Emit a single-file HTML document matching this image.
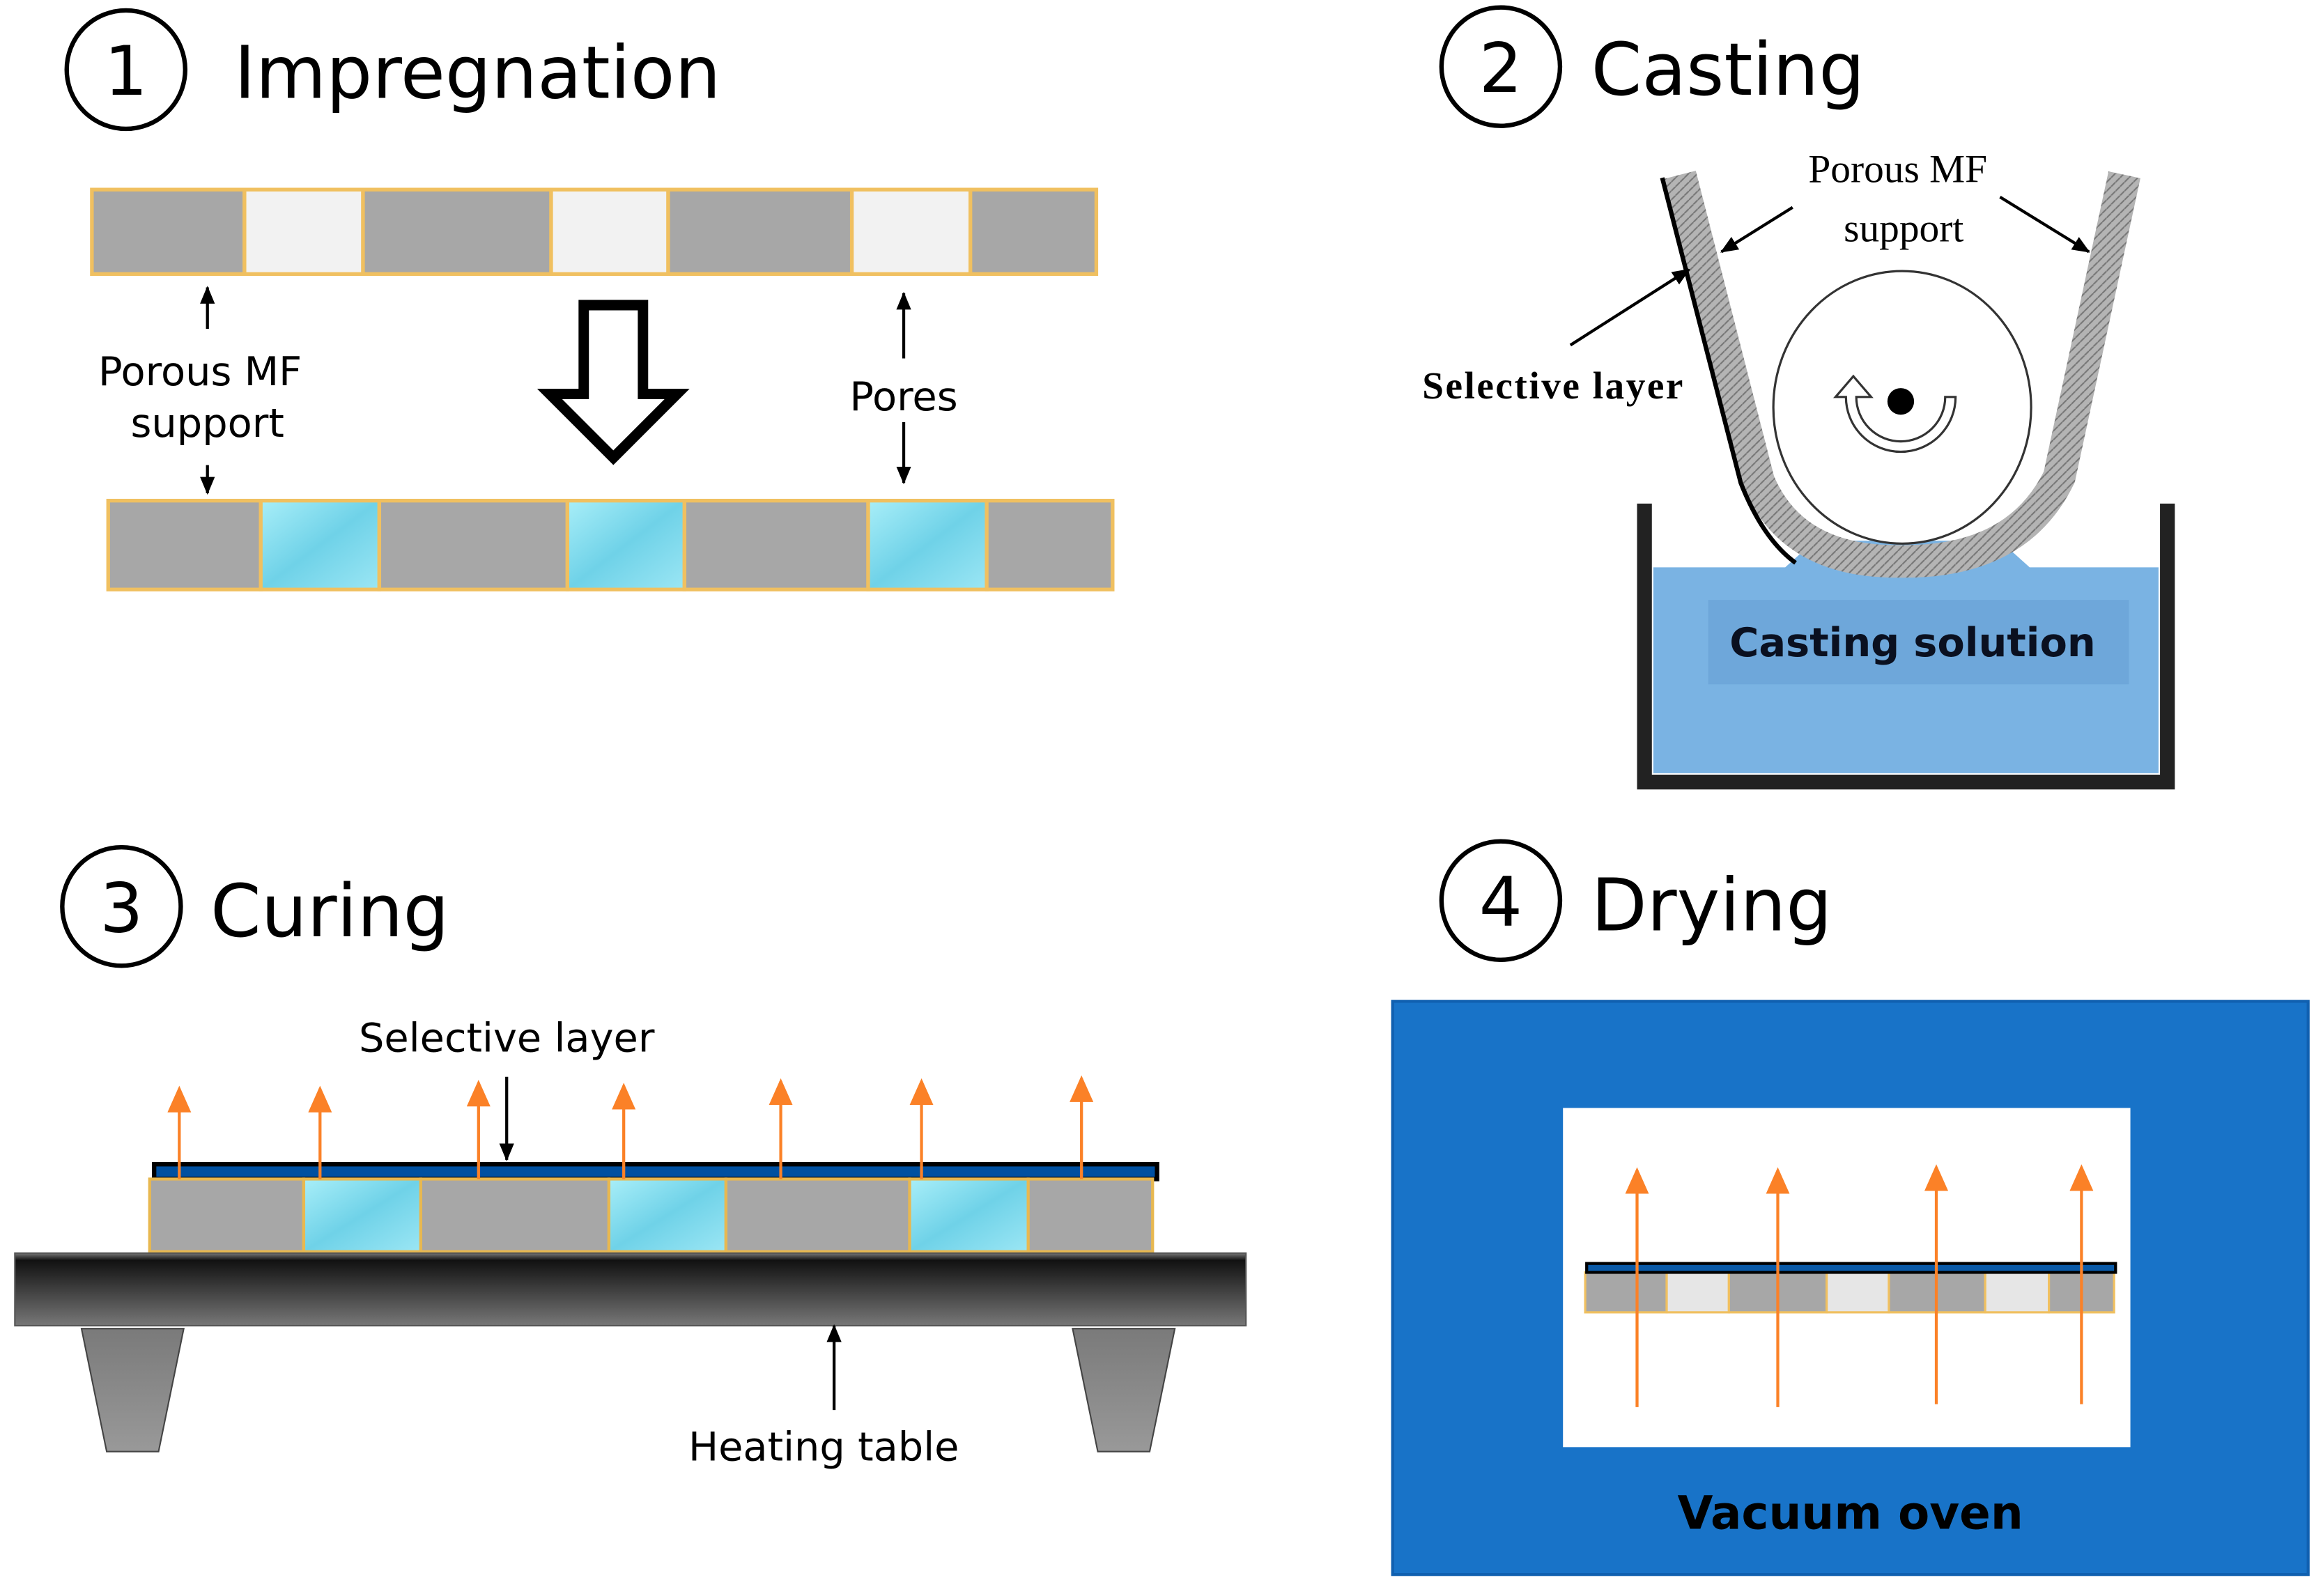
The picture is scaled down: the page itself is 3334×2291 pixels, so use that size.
<!DOCTYPE html>
<html><head><meta charset="utf-8"><style>
html,body{margin:0;padding:0;background:#fff;width:3334px;height:2291px;overflow:hidden}
svg{display:block}
.s{font-family:"DejaVu Sans","Liberation Sans",sans-serif}
.r{font-family:"Liberation Serif",serif}
</style></head><body>
<svg width="3334" height="2291" viewBox="0 0 1568 1077.5" xmlns="http://www.w3.org/2000/svg">
<defs>
<linearGradient id="wat" x1="0" y1="0" x2="1" y2="1">
<stop offset="0" stop-color="#a8eef8"/><stop offset="0.5" stop-color="#6fd2e8"/><stop offset="1" stop-color="#9be6f4"/>
</linearGradient>
<linearGradient id="tab" x1="0" y1="0" x2="0" y2="1">
<stop offset="0" stop-color="#777"/><stop offset="0.1" stop-color="#111"/><stop offset="1" stop-color="#777"/>
</linearGradient>
<linearGradient id="leg" x1="0" y1="0" x2="0" y2="1">
<stop offset="0" stop-color="#7a7a7a"/><stop offset="1" stop-color="#999"/>
</linearGradient>
<pattern id="wv" width="6" height="6" patternUnits="userSpaceOnUse">
<rect width="6" height="6" fill="#b4b4b4"/><path d="M0 3 L3 0 M3 6 L6 3" stroke="#777" stroke-width="1"/>
</pattern>
<marker id="ab2" markerWidth="12" markerHeight="12" refX="11" refY="6" orient="auto" markerUnits="userSpaceOnUse"><path d="M0,1 L12,6 L0,11 z" fill="#000"/></marker>
<marker id="ao" markerWidth="18" markerHeight="18" refX="16" refY="8" orient="auto" markerUnits="userSpaceOnUse"><path d="M0,0 L18,8 L0,16 z" fill="#fb8127"/></marker>
</defs>

<!-- Panel 1 -->
<circle cx="85" cy="47" r="40" fill="none" stroke="#000" stroke-width="3"/>
<text x="85" y="64" text-anchor="middle" class="s" font-size="46">1</text>
<text x="158" y="66" class="s" font-size="49">Impregnation</text>
<g stroke="#f0c060" stroke-width="2.5">
<rect x="62" y="128" width="103" height="57" fill="#a7a7a7"/>
<rect x="165" y="128" width="80" height="57" fill="#f2f2f2"/>
<rect x="245" y="128" width="127" height="57" fill="#a7a7a7"/>
<rect x="372" y="128" width="79" height="57" fill="#f2f2f2"/>
<rect x="451" y="128" width="124" height="57" fill="#a7a7a7"/>
<rect x="575" y="128" width="80" height="57" fill="#f2f2f2"/>
<rect x="655" y="128" width="85" height="57" fill="#a7a7a7"/>
<rect x="73" y="338" width="103" height="60" fill="#a7a7a7"/>
<rect x="176" y="338" width="80" height="60" fill="url(#wat)"/>
<rect x="256" y="338" width="127" height="60" fill="#a7a7a7"/>
<rect x="383" y="338" width="79" height="60" fill="url(#wat)"/>
<rect x="462" y="338" width="124" height="60" fill="#a7a7a7"/>
<rect x="586" y="338" width="80" height="60" fill="url(#wat)"/>
<rect x="666" y="338" width="85" height="60" fill="#a7a7a7"/>
</g>
<g stroke="#000" stroke-width="2">
<line x1="140" y1="222" x2="140" y2="194" marker-end="url(#ab2)"/>
<line x1="140" y1="314" x2="140" y2="333" marker-end="url(#ab2)"/>
<line x1="610" y1="242" x2="610" y2="198" marker-end="url(#ab2)"/>
<line x1="610" y1="285" x2="610" y2="326" marker-end="url(#ab2)"/>
</g>
<text x="135" y="260" text-anchor="middle" class="s" font-size="27">Porous MF</text>
<text x="140" y="295" text-anchor="middle" class="s" font-size="27">support</text>
<text x="610" y="277" text-anchor="middle" class="s" font-size="27">Pores</text>
<path d="M394,206 L434,206 L434,266 L457,266 L414,309 L371,266 L394,266 Z" fill="#fff" stroke="#000" stroke-width="7"/>

<!-- Panel 2 -->
<circle cx="1013" cy="45" r="40" fill="none" stroke="#000" stroke-width="3"/>
<text x="1013" y="62" text-anchor="middle" class="s" font-size="46">2</text>
<text x="1074" y="64" class="s" font-size="49">Casting</text>
<path d="M1116,383 L1205,383 L1225,365 L1350,365 L1370,383 L1457,383 L1457,522 L1116,522 Z" fill="#7ab3e3"/>
<rect x="1153" y="405" width="284" height="57" fill="#6ea7da"/>
<text x="1291" y="443" text-anchor="middle" class="s" font-size="27" font-weight="bold" fill="#0a1020">Casting solution</text>
<path d="M1110,340 L1110,528 L1463,528 L1463,340" fill="none" stroke="#222" stroke-width="10"/>
<ellipse cx="1284" cy="275" rx="87" ry="92" fill="#fff" stroke="#333" stroke-width="1.5"/>
<path d="M1134,118 L1187,325 Q1210,380 1283,379 Q1362,380 1390,322 L1434,118" fill="none" stroke="url(#wv)" stroke-width="22"/>
<path d="M1122,120 L1175,326 Q1190,364 1212,380" fill="none" stroke="#000" stroke-width="3"/>
<circle cx="1283" cy="271" r="9" fill="#000"/>
<path d="M1320,268 A37,37 0 0 1 1246,268 L1239,268 L1251,254 L1263,268 L1253,268 A30,30 0 0 0 1313,268 Z" fill="#fff" stroke="#333" stroke-width="1.5"/>
<text x="1281" y="123" text-anchor="middle" class="r" font-size="27">Porous MF</text>
<text x="1285" y="163" text-anchor="middle" class="r" font-size="27">support</text>
<text x="960" y="269" class="r" font-size="26" font-weight="bold" textLength="176">Selective layer</text>
<g stroke="#000" stroke-width="2">
<line x1="1210" y1="140" x2="1162" y2="170" marker-end="url(#ab2)"/>
<line x1="1350" y1="133" x2="1410" y2="170" marker-end="url(#ab2)"/>
<line x1="1060" y1="233" x2="1140" y2="182" marker-end="url(#ab2)"/>
</g>

<!-- Panel 3 -->
<circle cx="82" cy="612" r="40" fill="none" stroke="#000" stroke-width="3"/>
<text x="82" y="629" text-anchor="middle" class="s" font-size="46">3</text>
<text x="142" y="632" class="s" font-size="49">Curing</text>
<rect x="104" y="786" width="677" height="10" fill="#0050a0" stroke="#000" stroke-width="3"/>
<g stroke="#e8b850" stroke-width="2">
<rect x="101" y="796" width="104" height="49" fill="#a7a7a7"/>
<rect x="205" y="796" width="79" height="49" fill="url(#wat)"/>
<rect x="284" y="796" width="127" height="49" fill="#a7a7a7"/>
<rect x="411" y="796" width="79" height="49" fill="url(#wat)"/>
<rect x="490" y="796" width="124" height="49" fill="#a7a7a7"/>
<rect x="614" y="796" width="80" height="49" fill="url(#wat)"/>
<rect x="694" y="796" width="84" height="49" fill="#a7a7a7"/>
</g>
<rect x="10" y="846" width="831" height="49" fill="url(#tab)" stroke="#555" stroke-width="1"/>
<path d="M55,897 L124,897 L107,980 L72,980 Z" fill="url(#leg)" stroke="#444" stroke-width="1"/>
<path d="M724,897 L793,897 L776,980 L741,980 Z" fill="url(#leg)" stroke="#444" stroke-width="1"/>
<g stroke="#fb8127" stroke-width="2">
<line x1="121" y1="796" x2="121" y2="735" marker-end="url(#ao)"/>
<line x1="216" y1="796" x2="216" y2="735" marker-end="url(#ao)"/>
<line x1="323" y1="796" x2="323" y2="731" marker-end="url(#ao)"/>
<line x1="421" y1="796" x2="421" y2="733" marker-end="url(#ao)"/>
<line x1="527" y1="796" x2="527" y2="730" marker-end="url(#ao)"/>
<line x1="622" y1="796" x2="622" y2="730" marker-end="url(#ao)"/>
<line x1="730" y1="796" x2="730" y2="728" marker-end="url(#ao)"/>
</g>
<text x="342" y="710" text-anchor="middle" class="s" font-size="27">Selective layer</text>
<line x1="342" y1="727" x2="342" y2="783" stroke="#000" stroke-width="2" marker-end="url(#ab2)"/>
<line x1="563" y1="952" x2="563" y2="895" stroke="#000" stroke-width="2" marker-end="url(#ab2)"/>
<text x="556" y="986" text-anchor="middle" class="s" font-size="27">Heating table</text>

<!-- Panel 4 -->
<circle cx="1013" cy="608" r="40" fill="none" stroke="#000" stroke-width="3"/>
<text x="1013" y="625" text-anchor="middle" class="s" font-size="46">4</text>
<text x="1074" y="628" class="s" font-size="49">Drying</text>
<rect x="940" y="676" width="618" height="387" fill="#1873c8" stroke="#1060b0" stroke-width="2"/>
<rect x="1055" y="748" width="383" height="229" fill="#fff"/>
<g stroke="#f0c060" stroke-width="1.5">
<rect x="1070" y="859" width="55" height="27" fill="#a7a7a7"/>
<rect x="1125" y="859" width="42" height="27" fill="#e6e6e6"/>
<rect x="1167" y="859" width="66" height="27" fill="#a7a7a7"/>
<rect x="1233" y="859" width="42" height="27" fill="#e6e6e6"/>
<rect x="1275" y="859" width="65" height="27" fill="#a7a7a7"/>
<rect x="1340" y="859" width="43" height="27" fill="#e6e6e6"/>
<rect x="1383" y="859" width="44" height="27" fill="#a7a7a7"/>
</g>
<rect x="1071" y="853" width="357" height="6" fill="#0a5aa8" stroke="#000" stroke-width="2"/>
<g stroke="#fb8127" stroke-width="2">
<line x1="1105" y1="950" x2="1105" y2="790" marker-end="url(#ao)"/>
<line x1="1200" y1="950" x2="1200" y2="790" marker-end="url(#ao)"/>
<line x1="1307" y1="948" x2="1307" y2="788" marker-end="url(#ao)"/>
<line x1="1405" y1="948" x2="1405" y2="788" marker-end="url(#ao)"/>
</g>
<text x="1249" y="1032" text-anchor="middle" class="s" font-size="31" font-weight="bold" fill="#000">Vacuum oven</text>
</svg>
</body></html>
